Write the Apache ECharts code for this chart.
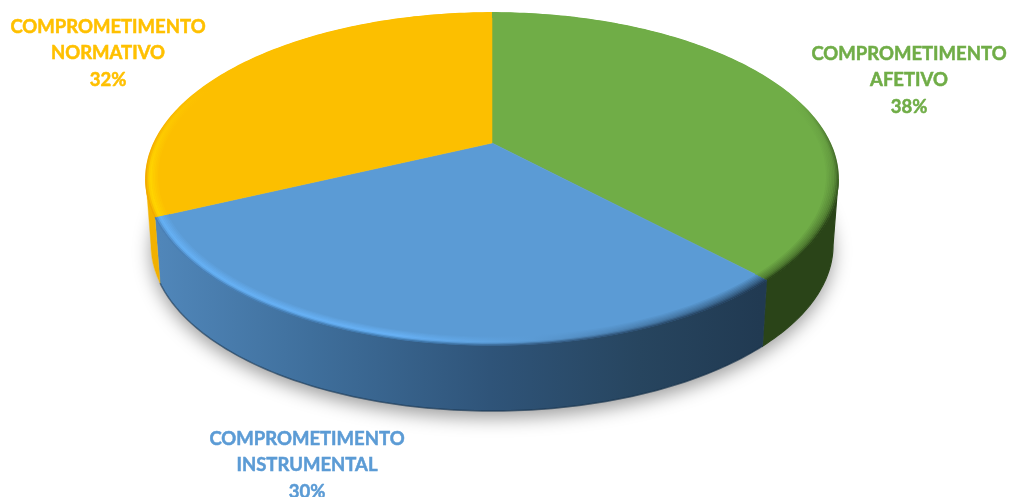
<!DOCTYPE html>
<html>
<head>
<meta charset="utf-8">
<style>
  html, body { margin: 0; padding: 0; background: #fff; }
  #chart { width: 1009px; height: 497px; }
</style>
<script src="https://cdn.jsdelivr.net/npm/echarts@6/dist/echarts.min.js"></script>
</head>
<body>
<div id="chart"></div>
<script>
// Composição do comprometimento organizacional
const categories = ['COMPROMETIMENTO\nAFETIVO', 'COMPROMETIMENTO\nINSTRUMENTAL', 'COMPROMETIMENTO\nNORMATIVO'];
const values = [38, 30, 32];

const faceColors = ['#70ad47', '#5b9bd5', '#fcbf00'];
const labelColors = ['#70ad47', '#5b9bd5', '#ffc000'];
const labelCentres = [[909, 80.5], [307, 465.5], [108, 53.5]];

// Perspective tilt of the disc
const CX = 492, CY = 143, KX = 338, KY = 158.2, TILT = 0.2169;
const DEPTH = 66, BASE_SHRINK = 0.985;
// Angles (clockwise from 12 o'clock) where the side wall meets the silhouette
const WALL_FROM = Math.acos(-TILT), WALL_TO = 2 * Math.PI - WALL_FROM;

function project(a, r) {
  const u = r * Math.sin(a), v = -r * Math.cos(a), s = 1 / (1 - TILT * v);
  return [CX + KX * u * s, CY + KY * v * s];
}
function base(a) {
  const p = project(a, 1);
  return [CX + (p[0] - CX) * BASE_SHRINK, p[1] + DEPTH];
}
function arc(a0, a1, fn) {
  const n = Math.max(2, Math.ceil((a1 - a0) * 60)), pts = [];
  for (let i = 0; i <= n; i++) pts.push(fn(a0 + (a1 - a0) * i / n));
  return pts;
}
function hex(c) { return [1, 3, 5].map(i => parseInt(c.substr(i, 2), 16)); }
function mix(a, b, t) {
  const x = hex(a), y = hex(b);
  return 'rgb(' + x.map((c, i) => Math.round(c + (y[i] - c) * t)).join(',') + ')';
}
const grad = (x, y, x2, y2, stops) => new echarts.graphic.LinearGradient(x, y, x2, y2, stops, true);

// Side wall fill per slice
const wallFill = [
  () => '#2a4418',
  () => grad(160, 0, 760, 0, [
    { offset: 0, color: '#5086b9' }, { offset: 0.25, color: '#3f6f9c' },
    { offset: 0.55, color: '#2f5479' }, { offset: 0.8, color: '#27455f' },
    { offset: 1, color: '#213a52' }
  ]),
  () => grad(0, 200, 0, 290, [{ offset: 0, color: '#f4b400' }, { offset: 1, color: '#f0ae00' }])
];

// Bevel shading: axis of the gradient, then [position, edge colour, crest colour]
const bevels = [
  { box: [0, 100, 0, 230], stops: [[0, '#70ad47', '#70ad47'], [0.3, '#4f7c32', '#67a041'], [1, '#2a4418', '#4e7a30']] },
  { box: [160, 0, 760, 0], stops: [
    [0, '#4a80b5', '#66b2f7'], [0.4, '#3f78ad', '#68b3f8'], [0.62, '#365f88', '#5b9bd5'],
    [1, '#223d58', '#355d83']] },
  { box: [0, 90, 0, 170], stops: [[0, '#fcbf00', '#fcbf00'], [1, '#f2aa00', '#ffd600']] }
];
const BANDS = 9, BAND_STEP = 0.0045;

function bandColour(i, t) {
  const b = bevels[i];
  const stops = b.stops.map(s => ({
    offset: s[0],
    color: t < 0.3 ? mix(s[1], s[2], t / 0.3) : mix(s[2], faceColors[i], (t - 0.3) / 0.7)
  }));
  return grad(b.box[0], b.box[1], b.box[2], b.box[3], stops);
}

function renderSlice(params, api) {
  const i = params.dataIndex;
  const total = values.reduce((s, v) => s + v, 0);
  const before = values.slice(0, i).reduce((s, v) => s + v, 0);
  const a0 = before / total * 2 * Math.PI;
  const a1 = a0 + api.value(0) / total * 2 * Math.PI;
  const children = [];

  // Soft cast shadow under the whole disc
  if (i === 0) {
    children.push({
      type: 'polygon', z2: 0,
      shape: { points: arc(0, 2 * Math.PI, base) },
      style: { fill: '#fff', shadowColor: 'rgba(0,0,0,0.38)', shadowBlur: 18, shadowOffsetY: 7 }
    });
  }

  // Outer wall, only where it faces the viewer
  const w0 = Math.max(a0, WALL_FROM), w1 = Math.min(a1, WALL_TO);
  if (w1 > w0) {
    const topEdge = arc(w0, w1, a => project(a, 1));
    const baseEdge = arc(w0, w1, base);
    const fill = wallFill[i]();
    children.push({
      type: 'polygon', z2: i === 0 ? 1 : 2,
      shape: { points: topEdge.concat(baseEdge.slice().reverse()) },
      style: { fill, stroke: fill, lineWidth: i === 0 ? 1.2 : 0.4 }
    });
    if (i === 1) {
      children.push({
        type: 'polyline', z2: 2,
        shape: { points: baseEdge },
        style: { fill: null, stroke: 'rgba(20,45,70,0.55)', lineWidth: 1.5 }
      });
    }
  }

  // Top face
  children.push({
    type: 'polygon', z2: 3,
    shape: { points: [project(0, 0)].concat(arc(a0, a1, a => project(a, 1))) },
    style: { fill: faceColors[i], stroke: faceColors[i], lineWidth: 0.6 }
  });

  // Bevel along the rim, darkest at the edge
  for (let b = 0; b < BANDS; b++) {
    const r = 0.999 - b * BAND_STEP;
    children.push({
      type: 'polyline', z2: 4 + b,
      shape: { points: arc(a0, a1, a => project(a, r)) },
      style: { fill: null, stroke: bandColour(i, b / (BANDS - 1)), lineWidth: 2, lineCap: 'butt' }
    });
  }

  // Category name and share
  children.push({
    type: 'text', z2: 40,
    style: {
      text: categories[i] + '\n' + api.value(0) + '%',
      x: labelCentres[i][0], y: labelCentres[i][1],
      fill: labelColors[i], align: 'center', verticalAlign: 'middle',
      fontFamily: 'Lato', fontWeight: 'bold', fontSize: 18.5, lineHeight: 26.5,
      stroke: labelColors[i], lineWidth: 0.5
    }
  });
  return { type: 'group', children };
}

const chart = echarts.init(document.getElementById('chart'), null, { renderer: 'canvas' });
chart.setOption({
  animation: false,
  backgroundColor: '#ffffff',
  series: [{
    type: 'custom',
    coordinateSystem: 'none',
    silent: true,
    renderItem: renderSlice,
    data: values.map((v, i) => ({ name: categories[i], value: [v, i] }))
  }]
});
</script>
</body>
</html>
